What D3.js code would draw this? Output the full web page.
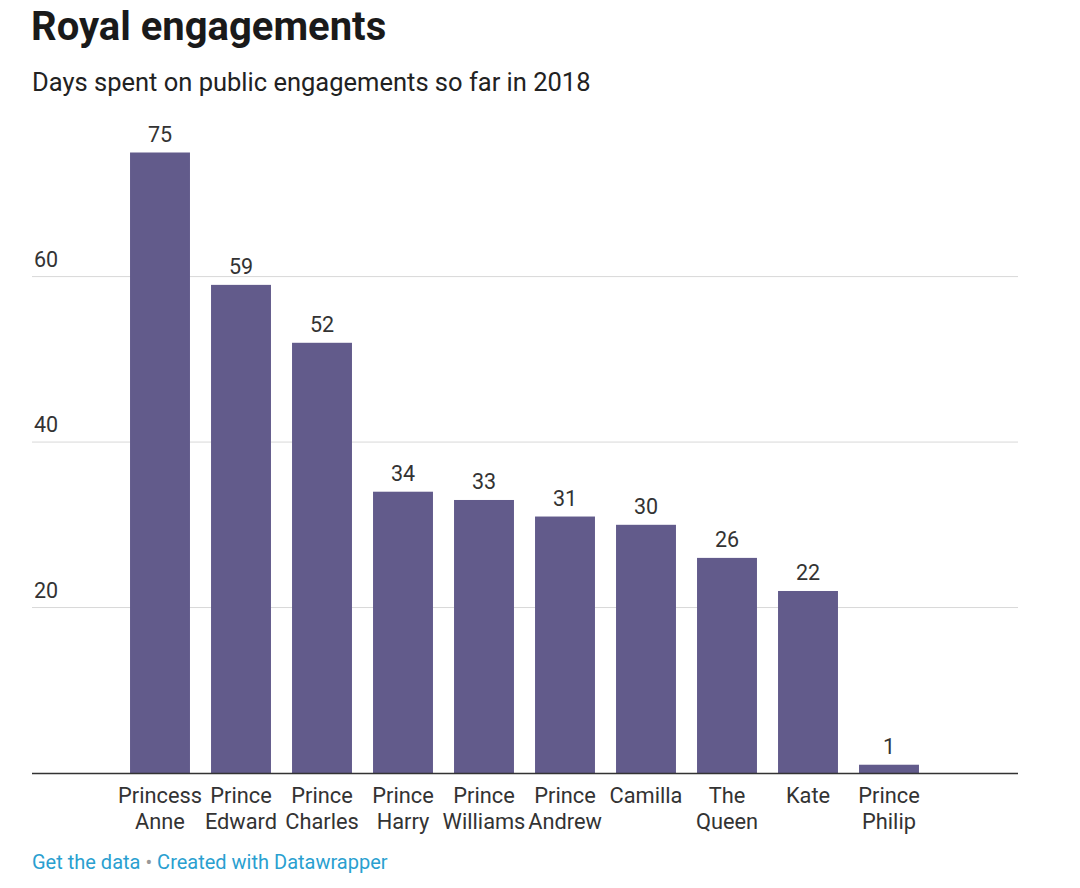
<!DOCTYPE html>
<html><head><meta charset="utf-8">
<script src="https://cdn.jsdelivr.net/npm/d3@7"></script>
<style>
body{margin:0;background:#fff;font-family:Roboto,"Noto Sans",sans-serif;}
</style></head>
<body><svg id="c" width="1080" height="888"></svg>
<script>
const categories = ["Princess Anne","Prince Edward","Prince Charles","Prince Harry","Prince Williams","Prince Andrew","Camilla","The Queen","Kate","Prince Philip"];
const values = [75,59,52,34,33,31,30,26,22,1];
const yTicks = [20,40,60];

const svg = d3.select("#c");
const x = d3.scaleBand().domain(categories).range([119.5, 929.5]).paddingInner(0.26).paddingOuter(0.13);
const y = d3.scaleLinear().domain([0,75]).range([773,152.5]);

svg.append("text").attr("x",31).attr("y",40).attr("font-size",40).attr("font-weight",700).attr("fill","#1a1a1a").text("Royal engagements");
svg.append("text").attr("x",32).attr("y",91).attr("font-size",25.5).attr("fill","#222").text("Days spent on public engagements so far in 2018");

const g = svg.append("g");
yTicks.forEach(t=>{
  g.append("line").attr("x1",32).attr("x2",1018).attr("y1",y(t)).attr("y2",y(t)).attr("stroke","#d8d8d8").attr("stroke-width",1);
  g.append("text").attr("x",34).attr("y",y(t)-10).attr("font-size",21.5).attr("fill","#333").text(t);
});

g.selectAll("rect.bar").data(values).join("rect").attr("class","bar")
  .attr("x",(d,i)=>x(categories[i])).attr("width",x.bandwidth())
  .attr("y",d=>y(d)).attr("height",d=>y(0)-y(d)).attr("fill","#625b8b");

g.selectAll("text.val").data(values).join("text").attr("class","val")
  .attr("x",(d,i)=>x(categories[i])+x.bandwidth()/2).attr("y",d=>y(d)-11)
  .attr("text-anchor","middle").attr("font-size",21.5).attr("fill","#333").text(d=>d);

g.append("line").attr("x1",32).attr("x2",1018).attr("y1",y(0)+0.5).attr("y2",y(0)+0.5).attr("stroke","#333").attr("stroke-width",1.5);

categories.forEach(c=>{
  const parts = c.split(" ");
  const t = g.append("text").attr("x",x(c)+x.bandwidth()/2).attr("y",803).attr("text-anchor","middle").attr("font-size",21.8).attr("fill","#333");
  parts.forEach((p,i)=>t.append("tspan").attr("x",x(c)+x.bandwidth()/2).attr("dy",i===0?0:25.5).text(p));
});

const f = svg.append("text").attr("x",32).attr("y",869).attr("font-size",20).attr("fill","#2a9fd0");
f.append("tspan").text("Get the data");
f.append("tspan").attr("fill","#999").text(" • ");
f.append("tspan").text("Created with Datawrapper");
</script></body></html>
